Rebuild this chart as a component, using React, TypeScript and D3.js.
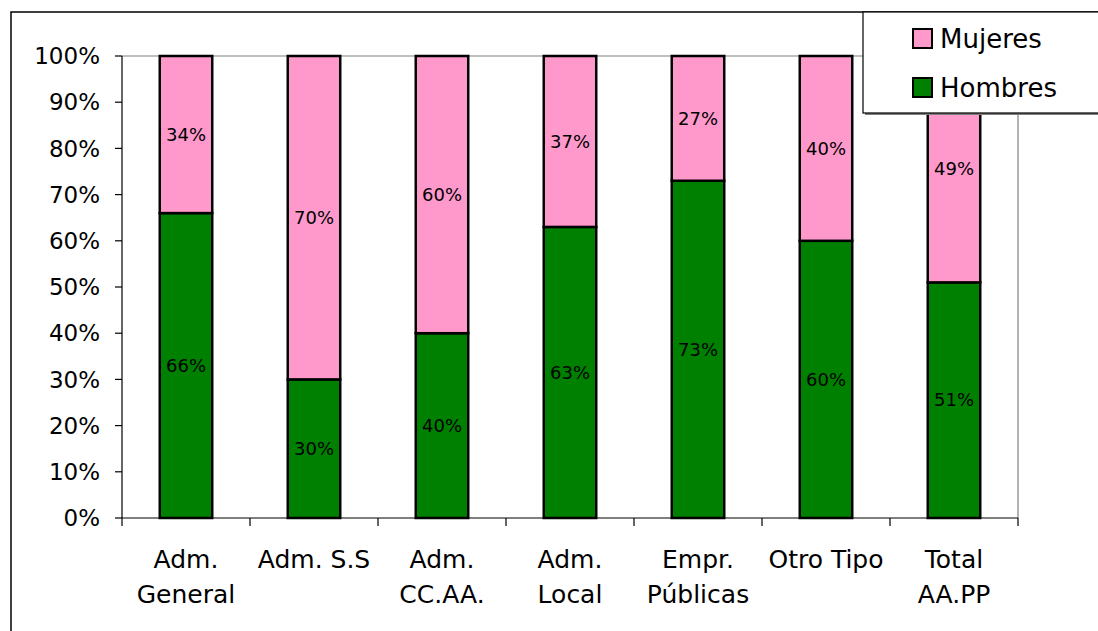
import React from "react";
import * as d3 from "d3";

const categories: string[][] = [
  ["Adm.", "General"],
  ["Adm. S.S"],
  ["Adm.", "CC.AA."],
  ["Adm.", "Local"],
  ["Empr.", "Públicas"],
  ["Otro Tipo"],
  ["Total", "AA.PP"],
];
const hombres = [66, 30, 40, 63, 73, 60, 51];
const mujeres = [34, 70, 60, 37, 27, 40, 49];
const yTicks = [0, 10, 20, 30, 40, 50, 60, 70, 80, 90, 100];

const W = 1098;
const H = 631;
const FONT = "'DejaVu Sans', sans-serif";
const PINK = "#FF99CC";
const GREEN = "#008000";

export default function App() {
  const left = 122;
  const right = 1018;
  const top = 56;
  const bottom = 518;

  const x = d3
    .scaleBand<number>()
    .domain(d3.range(categories.length))
    .range([left, right])
    .paddingInner(0)
    .paddingOuter(0);
  const y = d3.scaleLinear().domain([0, 100]).range([bottom, top]);
  const barW = x.bandwidth() * 0.41;

  const stack = d3
    .stack<number>()
    .keys(["h", "m"])
    .value((i, k) => (k === "h" ? hombres[i] : mujeres[i]));
  const series = stack(d3.range(categories.length));
  const colors = [GREEN, PINK];

  return (
    <svg
      width={W}
      height={H}
      style={{ position: "absolute", left: 0, top: 0, background: "#fff" }}
      fontFamily={FONT}
    >
      <rect x={0} y={0} width={W} height={H} fill="#fff" />
      {/* chart frame */}
      <rect x={11} y={12} width={W} height={H} fill="none" stroke="#000" strokeWidth={1.5} />

      {/* plot area border (top/right) */}
      <line x1={left} x2={right} y1={top} y2={top} stroke="#808080" strokeWidth={1.2} />
      <line x1={right} x2={right} y1={top} y2={bottom} stroke="#808080" strokeWidth={1.2} />

      {/* bars */}
      {series.map((s, si) =>
        s.map((d, i) => {
          const x0 = (x(i) as number) + (x.bandwidth() - barW) / 2;
          return (
            <rect
              key={`${si}-${i}`}
              x={x0}
              y={y(d[1])}
              width={barW}
              height={y(d[0]) - y(d[1])}
              fill={colors[si]}
              stroke="#000"
              strokeWidth={2.5}
            />
          );
        })
      )}

      {/* value labels */}
      {series.map((s, si) =>
        s.map((d, i) => (
          <text
            key={`l${si}-${i}`}
            x={(x(i) as number) + x.bandwidth() / 2}
            y={(y(d[0]) + y(d[1])) / 2}
            dy="0.35em"
            textAnchor="middle"
            fontSize={18}
            fill="#000"
          >
            {(si === 0 ? hombres[i] : mujeres[i]) + "%"}
          </text>
        ))
      )}

      {/* y axis */}
      <line x1={left} x2={left} y1={top} y2={bottom} stroke="#000" strokeWidth={1.2} />
      {yTicks.map((t) => (
        <g key={t}>
          <line x1={left - 7} x2={left} y1={y(t)} y2={y(t)} stroke="#000" strokeWidth={1.2} />
          <text
            x={left - 22}
            y={y(t)}
            dy="0.36em"
            textAnchor="end"
            fontSize={23}
            fill="#000"
          >
            {t + "%"}
          </text>
        </g>
      ))}

      {/* x axis */}
      <line x1={left} x2={right} y1={bottom} y2={bottom} stroke="#000" strokeWidth={1.2} />
      {d3.range(categories.length + 1).map((i) => {
        const xx = i < categories.length ? (x(i) as number) : right;
        return (
          <line key={i} x1={xx} x2={xx} y1={bottom} y2={bottom + 8} stroke="#000" strokeWidth={1.2} />
        );
      })}
      {categories.map((lines, i) => (
        <text
          key={i}
          x={(x(i) as number) + x.bandwidth() / 2}
          textAnchor="middle"
          fontSize={25}
          fill="#000"
        >
          {lines.map((ln, j) => (
            <tspan key={j} x={(x(i) as number) + x.bandwidth() / 2} y={568 + j * 35}>
              {ln}
            </tspan>
          ))}
        </text>
      ))}

      {/* legend */}
      <rect x={865} y={14} width={240} height={101} fill="#808080" />
      <rect x={863} y={12} width={240} height={101} fill="#fff" stroke="#000" strokeWidth={1.2} />
      {[
        { label: "Mujeres", color: PINK, y: 39 },
        { label: "Hombres", color: GREEN, y: 88 },
      ].map((d) => (
        <g key={d.label}>
          <rect x={913} y={d.y - 10} width={19} height={19} fill={d.color} stroke="#000" strokeWidth={2} />
          <text x={940} y={d.y} dy="0.36em" fontSize={26} fill="#000">
            {d.label}
          </text>
        </g>
      ))}
    </svg>
  );
}
